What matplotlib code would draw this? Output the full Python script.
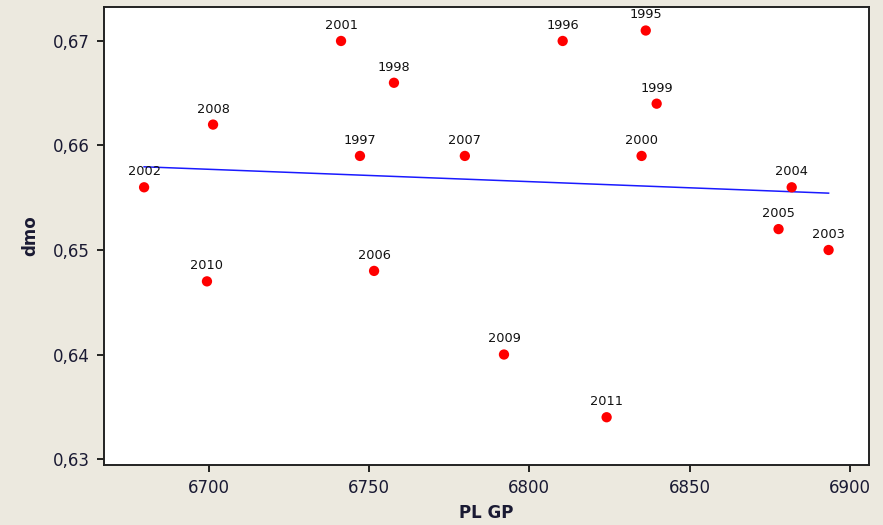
import numpy as np
from matplotlib import pyplot as plt

# PL GP vs dmo by year
years = ["1995", "1996", "1997", "1998", "1999", "2000", "2001", "2002", "2003",
         "2004", "2005", "2006", "2007", "2008", "2009", "2010", "2011"]
pl_gp = [6836.3, 6810.4, 6747.2, 6757.8, 6839.7, 6835.0, 6741.3, 6679.9, 6893.3,
         6881.8, 6877.7, 6751.6, 6779.9, 6701.4, 6792.1, 6699.5, 6824.1]
dmo = [0.671, 0.670, 0.659, 0.666, 0.664, 0.659, 0.670, 0.656, 0.650,
       0.656, 0.652, 0.648, 0.659, 0.662, 0.640, 0.647, 0.634]

bg = '#ece9df'
fig = plt.figure(figsize=(8.83, 5.25), dpi=100, facecolor=bg)
ax = fig.add_axes([104 / 883, 1 - 465 / 525, 765 / 883, 458 / 525])

# least squares fit line across the x range of the data
slope, intercept = np.polyfit(pl_gp, dmo, 1)
xs = np.array([min(pl_gp), max(pl_gp)])
ax.plot(xs, slope * xs + intercept, color='#1a1aff', lw=1.1, zorder=2)

ax.scatter(pl_gp, dmo, s=55, color='#ff0000', edgecolors='none', zorder=3)
for yr, x, y in zip(years, pl_gp, dmo):
    ax.annotate(yr, (x, y), xytext=(0, 6.5), textcoords='offset points',
                ha='center', va='bottom', fontsize=9.3, color='#111111')

ax.set_xlim(6667.4, 6905.9)
ax.set_ylim(0.62943, 0.67325)
ax.set_xticks([6700, 6750, 6800, 6850, 6900])
ax.set_yticks([0.63, 0.64, 0.65, 0.66, 0.67])
ax.set_yticklabels(['0,63', '0,64', '0,65', '0,66', '0,67'])
ax.tick_params(direction='out', length=5, width=1.2, labelsize=12,
               labelcolor='#1a1a33', pad=5)
for sp in ax.spines.values():
    sp.set_linewidth(1.4)
    sp.set_color('#222222')

ax.set_xlabel('PL GP', fontsize=12, fontweight='bold', color='#1a1a33', labelpad=5)
ax.set_ylabel('dmo', fontsize=12, fontweight='bold', color='#1a1a33', labelpad=10)

plt.savefig('out.png', dpi=100, facecolor=bg)
